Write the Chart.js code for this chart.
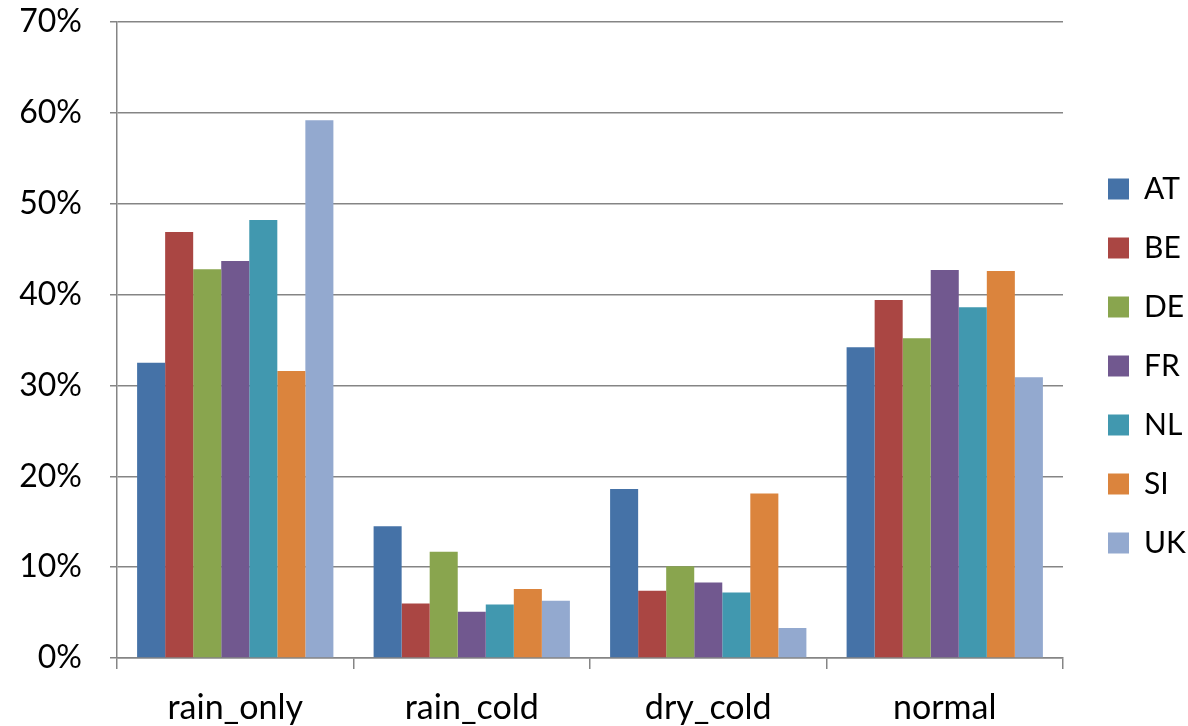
<!DOCTYPE html>
<html>
<head>
<meta charset="utf-8">
<script src="https://cdn.jsdelivr.net/npm/chart.js@4/dist/chart.umd.min.js"></script>
<style>
  html, body { margin: 0; padding: 0; background: #fff; }
  canvas { display: block; }
</style>
</head>
<body>
<canvas id="chart" width="1188" height="726"></canvas>
<script>
// Categories and per-country shares (percent)
const categories = ['rain_only', 'rain_cold', 'dry_cold', 'normal']
const AT = [32.5, 14.5, 18.6, 34.2]
const BE = [46.9, 6.0, 7.4, 39.4]
const DE = [42.8, 11.7, 10.1, 35.2]
const FR = [43.7, 5.1, 8.3, 42.7]
const NL = [48.2, 5.9, 7.2, 38.6]
const SI = [31.6, 7.6, 18.1, 42.6]
const UK = [59.2, 6.3, 3.3, 30.9]
const yTicks = [0, 10, 20, 30, 40, 50, 60, 70]

const series = [
  { label: 'AT', data: AT, color: '#4572A7' },
  { label: 'BE', data: BE, color: '#AA4643' },
  { label: 'DE', data: DE, color: '#89A54E' },
  { label: 'FR', data: FR, color: '#71588F' },
  { label: 'NL', data: NL, color: '#4198AF' },
  { label: 'SI', data: SI, color: '#DB843D' },
  { label: 'UK', data: UK, color: '#93A9CF' }
]

const gridColor = '#858585'

Chart.defaults.font.family = 'Lato'
Chart.defaults.font.size = 32
Chart.defaults.color = '#000'

// Fix the legend width and nudge it so the plot ends where the reference does
const legendFit = {
  id: 'legendFit',
  afterInit(chart) {
    const legend = chart.legend
    const fit = legend.fit
    legend.fit = function () {
      fit.call(this)
      this.width = 125
    }
  },
  afterLayout(chart) {
    const legend = chart.legend
    legend.left += 16
    legend.right += 16
    legend.top -= 8
    legend.bottom -= 8
  }
}

new Chart(document.getElementById('chart'), {
  type: 'bar',
  data: {
    labels: categories,
    datasets: series.map(s => ({
      label: s.label,
      data: s.data,
      backgroundColor: s.color,
      borderColor: s.color,
      borderWidth: 0
    }))
  },
  plugins: [legendFit],
  options: {
    responsive: false,
    animation: false,
    datasets: {
      bar: {
        barPercentage: 1,
        categoryPercentage: 0.83
      }
    },
    layout: {
      padding: { top: 22, right: 0, bottom: 0, left: 0 }
    },
    plugins: {
      legend: {
        position: 'right',
        labels: {
          boxWidth: 21,
          boxHeight: 21,
          padding: 29,
          font: { size: 30 }
        }
      },
      tooltip: { enabled: false }
    },
    scales: {
      x: {
        afterFit(scale) {
          scale.height = 68
          scale.paddingLeft = 0
          scale.paddingRight = 0
        },
        grid: {
          offset: true,
          drawOnChartArea: false,
          drawTicks: true,
          tickLength: 11,
          color: gridColor,
          lineWidth: 1.5
        },
        border: { display: true, color: gridColor, width: 1.5 },
        ticks: { padding: 19, font: { size: 34 } }
      },
      y: {
        min: 0,
        max: 70,
        afterFit(scale) {
          scale.width = 117
          scale.paddingTop = 0
          scale.paddingBottom = 0
        },
        afterBuildTicks(scale) {
          scale.ticks = yTicks.map(v => ({ value: v }))
        },
        grid: {
          color: gridColor,
          lineWidth: 1.5,
          tickLength: 7
        },
        border: { display: true, color: gridColor, width: 1.5 },
        ticks: {
          padding: 28,
          callback: v => v + '%'
        }
      }
    }
  }
})
</script>
</body>
</html>
